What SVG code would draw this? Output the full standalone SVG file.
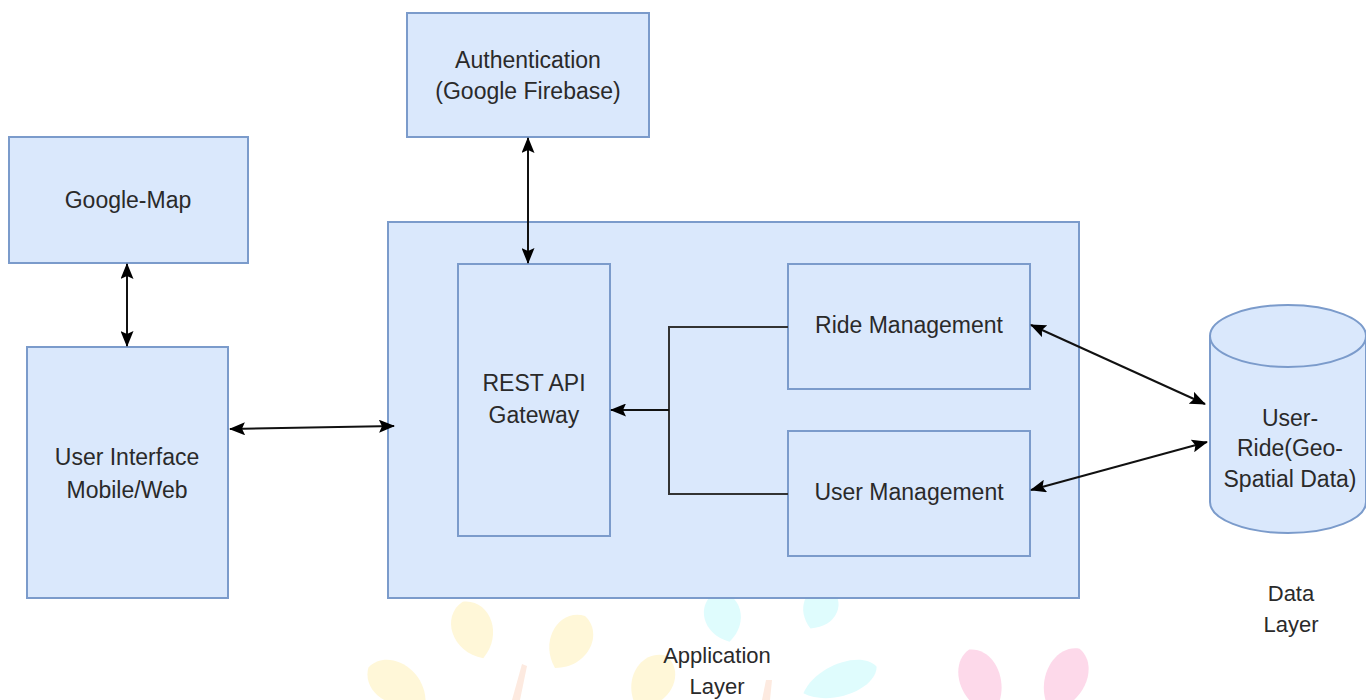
<svg xmlns="http://www.w3.org/2000/svg" width="1366" height="700" viewBox="0 0 1366 700">
<defs>
<style>
.box{fill:#dae8fc;stroke:#7b9bcb;stroke-width:2}
.lbl{font-family:"Liberation Sans",Arial,sans-serif;font-size:23px;fill:#2a2a2a;text-anchor:middle}
.con{fill:none;stroke:#111;stroke-width:2}
.leafY{fill:#fff7d8}
.leafC{fill:#dffcfd}
.leafP{fill:#fdd9ea}
.stalk{fill:#fdeae0}
</style>
<path id="leaf" d="M0,-30 C26,-24 28,14 0,30 C-28,14 -26,-24 0,-30 Z"/>
<marker id="ah" viewBox="0 0 16 13" markerWidth="16" markerHeight="13" refX="15" refY="6.5" orient="auto-start-reverse" markerUnits="userSpaceOnUse">
<path d="M0,0 L16,6.5 L0,13 L3,6.5 Z" fill="#000"/>
</marker>
</defs>
<rect width="1366" height="700" fill="#ffffff"/>
<g id="watermark">
<use href="#leaf" class="leafY" transform="translate(473 630) rotate(-20)"/>
<use href="#leaf" class="leafY" transform="translate(570 642) rotate(30)"/>
<use href="#leaf" class="leafY" transform="translate(397 684) rotate(-60) scale(1 1.1)"/>
<use href="#leaf" class="leafY" transform="translate(652 682) rotate(30)"/>
<path class="stalk" d="M512,700 L522,664 L527,666 L520,700 Z"/>
<path class="stalk" d="M762,700 L766,680 L772,680 L770,700 Z"/>
<use href="#leaf" class="leafC" transform="translate(723 617) rotate(-15) scale(0.9 0.85)"/>
<use href="#leaf" class="leafC" transform="translate(820 608) rotate(25) scale(0.85 0.75)"/>
<use href="#leaf" class="leafC" transform="translate(840 680) rotate(70) scale(0.8 1.3)"/>
<use href="#leaf" class="leafP" transform="translate(981 682) rotate(-20) scale(1 1.15)"/>
<use href="#leaf" class="leafP" transform="translate(1065 680) rotate(25) scale(1 1.15)"/>
</g>
<g id="app-layer">
<rect class="box" x="388" y="222" width="691" height="376"/>
</g>
<g id="google-map">
<rect class="box" x="9" y="137" width="239" height="126"/>
<text class="lbl" x="128" y="208">Google-Map</text>
</g>
<g id="authentication">
<rect class="box" x="407" y="13" width="242" height="124"/>
<text class="lbl" x="528" y="68">Authentication</text>
<text class="lbl" x="528" y="99">(Google Firebase)</text>
</g>
<g id="user-interface">
<rect class="box" x="27" y="347" width="201" height="251"/>
<text class="lbl" x="127" y="465">User Interface</text>
<text class="lbl" x="127" y="498">Mobile/Web</text>
</g>
<g id="rest-api">
<rect class="box" x="458" y="264" width="152" height="272"/>
<text class="lbl" x="534" y="391">REST API</text>
<text class="lbl" x="534" y="423">Gateway</text>
</g>
<g id="ride-management">
<rect class="box" x="788" y="264" width="242" height="125"/>
<text class="lbl" x="909" y="333">Ride Management</text>
</g>
<g id="user-management">
<rect class="box" x="788" y="431" width="242" height="125"/>
<text class="lbl" x="909" y="500">User Management</text>
</g>
<g id="database">
<path class="box" d="M1210,336 A78,31 0 0 1 1366,336 L1366,502 A78,31 0 0 1 1210,502 Z"/>
<path class="box" style="fill:none" d="M1210,336 A78,31 0 0 0 1366,336"/>
<text class="lbl" x="1290" y="426">User-</text>
<text class="lbl" x="1290" y="456">Ride(Geo-</text>
<text class="lbl" x="1290" y="487">Spatial Data)</text>
</g>
<g id="layer-labels">
<text class="lbl" x="1291" y="601" style="font-size:22px">Data</text>
<text class="lbl" x="1291" y="632" style="font-size:22px">Layer</text>
<text class="lbl" x="717" y="663" style="font-size:22px">Application</text>
<text class="lbl" x="717" y="694" style="font-size:22px">Layer</text>
</g>
<g id="connectors">
<line class="con" x1="127" y1="264" x2="127" y2="346" marker-start="url(#ah)" marker-end="url(#ah)"/>
<line class="con" x1="528" y1="138" x2="528" y2="263" marker-start="url(#ah)" marker-end="url(#ah)"/>
<line class="con" x1="230" y1="429" x2="394" y2="426" marker-start="url(#ah)" marker-end="url(#ah)"/>
<polyline class="con" points="788,327 669,327 669,494 788,494" style="stroke:#333"/>
<line class="con" x1="669" y1="410" x2="611" y2="410" marker-end="url(#ah)"/>
<line class="con" x1="1031" y1="325" x2="1205" y2="404" marker-start="url(#ah)" marker-end="url(#ah)"/>
<line class="con" x1="1031" y1="490" x2="1207" y2="442" marker-start="url(#ah)" marker-end="url(#ah)"/>
</g>
</svg>
